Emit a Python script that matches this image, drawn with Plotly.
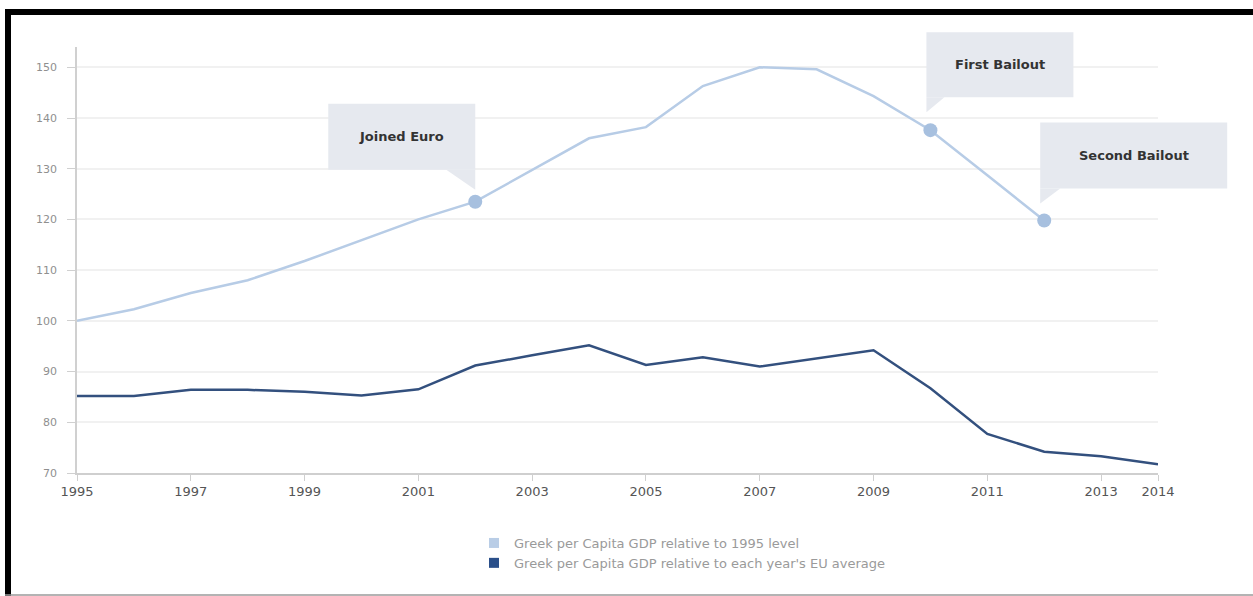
import plotly.graph_objects as go

# ---------------- data ----------------
years = list(range(1995, 2015))
rel_1995 = [100, 102.3, 105.5, 108, 111.8, 115.9, 120, 123.5, 129.8, 136,
            138.2, 146.3, 150, 149.6, 144.3, 137.6, 128.7, 119.8]
rel_eu = [85.2, 85.2, 86.4, 86.4, 86.0, 85.3, 86.5, 91.2, 93.2, 95.2,
          91.3, 92.8, 91.0, 92.6, 94.2, 86.7, 77.7, 74.2, 73.3, 71.7]
event_years = [2002, 2010, 2012]
event_labels = ["Joined Euro", "First Bailout", "Second Bailout"]
x_tickvals = [1995, 1997, 1999, 2001, 2003, 2005, 2007, 2009, 2011, 2013, 2014]
y_tickvals = [70, 80, 90, 100, 110, 120, 130, 140, 150]
legend_names = ["Greek per Capita GDP relative to 1995 level",
                "Greek per Capita GDP relative to each year's EU average"]

# ---------------- style ----------------
W, H = 1253, 596
ML, MR, MT, MB = 77, 95, 47, 123
LIGHT = "#b7cce6"
LIGHT_MK = "#a7c0df"
DARK = "#33507e"
BOX = "#e6e9ef"
PW, PH = W - ML - MR, H - MT - MB
XR = [1995, 2014]
YR = [70, 154]


def px_x(p):
    return (p - ML) / PW


def px_y(p):
    return (H - MB - p) / PH


event_vals = [rel_1995[years.index(y)] for y in event_years]

fig = go.Figure()
fig.add_trace(go.Scatter(x=years[:len(rel_1995)], y=rel_1995, mode="lines",
                         line=dict(color=LIGHT, width=2.5), showlegend=False,
                         hoverinfo="skip"))
fig.add_trace(go.Scatter(x=years, y=rel_eu, mode="lines",
                         line=dict(color=DARK, width=2.5), showlegend=False,
                         hoverinfo="skip"))
fig.add_trace(go.Scatter(x=event_years, y=event_vals, mode="markers",
                         marker=dict(color=LIGHT_MK, size=14), showlegend=False,
                         hoverinfo="skip"))
# legend swatches
for name, col in zip(legend_names, ["#b9cde6", "#2a4f8a"]):
    fig.add_trace(go.Scatter(x=[None], y=[None], mode="markers", name=name,
                             marker=dict(symbol="square", size=10, color=col)))

# callouts: (box x0, x1, y0, y1 relative to marker in px, tail path)
callouts = [
    dict(box=(-147, 0, 32, 98), tail="M -29,32 L 0,32 L 0,12 Z", txt=(-73.5, 65)),
    dict(box=(-4, 143, 33, 98), tail="M -4,33 L 14,33 L -4,18 Z", txt=(69.5, 65.5)),
    dict(box=(-4, 183, 32, 98), tail="M -4,32 L 16,32 L -4,17 Z", txt=(89.5, 65)),
]
shapes = []
annotations = []
for ex, ev, lab, c in zip(event_years, event_vals, event_labels, callouts):
    # anchor in paper fraction (derived from the axis ranges) so the callouts are not clipped
    xa = (ex - XR[0]) / (XR[1] - XR[0])
    ya = (ev - YR[0]) / (YR[1] - YR[0])
    x0, x1, y0, y1 = c["box"]
    shapes.append(dict(type="rect", xref="paper", yref="paper", xsizemode="pixel",
                       ysizemode="pixel", xanchor=xa, yanchor=ya,
                       x0=x0, x1=x1, y0=y0, y1=y1, fillcolor=BOX,
                       line=dict(width=0), layer="above"))
    shapes.append(dict(type="path", xref="paper", yref="paper", xsizemode="pixel",
                       ysizemode="pixel", xanchor=xa, yanchor=ya,
                       path=c["tail"], fillcolor=BOX,
                       line=dict(width=0), layer="above"))
    annotations.append(dict(x=ex, y=ev, xref="x", yref="y", text="<b>%s</b>" % lab,
                            showarrow=False, xshift=c["txt"][0], yshift=c["txt"][1],
                            xanchor="center", yanchor="middle",
                            font=dict(family="DejaVu Sans", size=13,
                                      color="#333333")))

# frame: black top and left, thin grey bottom
shapes.append(dict(type="rect", xref="paper", yref="paper", x0=px_x(5), x1=px_x(W + 2),
                   y0=px_y(15), y1=px_y(9), fillcolor="black", line=dict(width=0),
                   layer="above"))
shapes.append(dict(type="rect", xref="paper", yref="paper", x0=px_x(5), x1=px_x(11),
                   y0=px_y(H + 2), y1=px_y(9), fillcolor="black", line=dict(width=0),
                   layer="above"))
shapes.append(dict(type="line", xref="paper", yref="paper", x0=px_x(5), x1=px_x(W + 2),
                   y0=px_y(595), y1=px_y(595), line=dict(color="#9a9a9a", width=1.5),
                   layer="above"))

fig.update_layout(
    width=W, height=H, autosize=False,
    margin=dict(l=ML, r=MR, t=MT, b=MB),
    paper_bgcolor="white", plot_bgcolor="white",
    shapes=shapes, annotations=annotations,
    font=dict(family="Lato, Noto Sans, sans-serif"),
    showlegend=True,
    legend=dict(x=px_x(474), y=px_y(528), xanchor="left", yanchor="top",
                font=dict(family="DejaVu Sans", size=13, color="#9a9a9a"),
                bgcolor="rgba(0,0,0,0)", tracegroupgap=0, itemwidth=30),
    xaxis=dict(range=XR, tickvals=x_tickvals, showgrid=False,
               showline=True, linecolor="#cfcfcf", linewidth=1.5,
               ticks="outside", ticklen=6, tickcolor="#cfcfcf",
               tickfont=dict(family="DejaVu Sans", size=13, color="#555555"),
               zeroline=False, fixedrange=True),
    yaxis=dict(range=YR, tickvals=y_tickvals, showgrid=True,
               gridcolor="#f1f1f1", gridwidth=1.5,
               showline=True, linecolor="#d0d0d0", linewidth=1.5,
               ticks="outside", ticklen=8, tickcolor="#d0d0d0",
               ticklabelstandoff=8,
               tickfont=dict(family="DejaVu Sans", size=11, color="#8f8f8f"),
               zeroline=False, fixedrange=True),
)

fig.write_html("out.html")
